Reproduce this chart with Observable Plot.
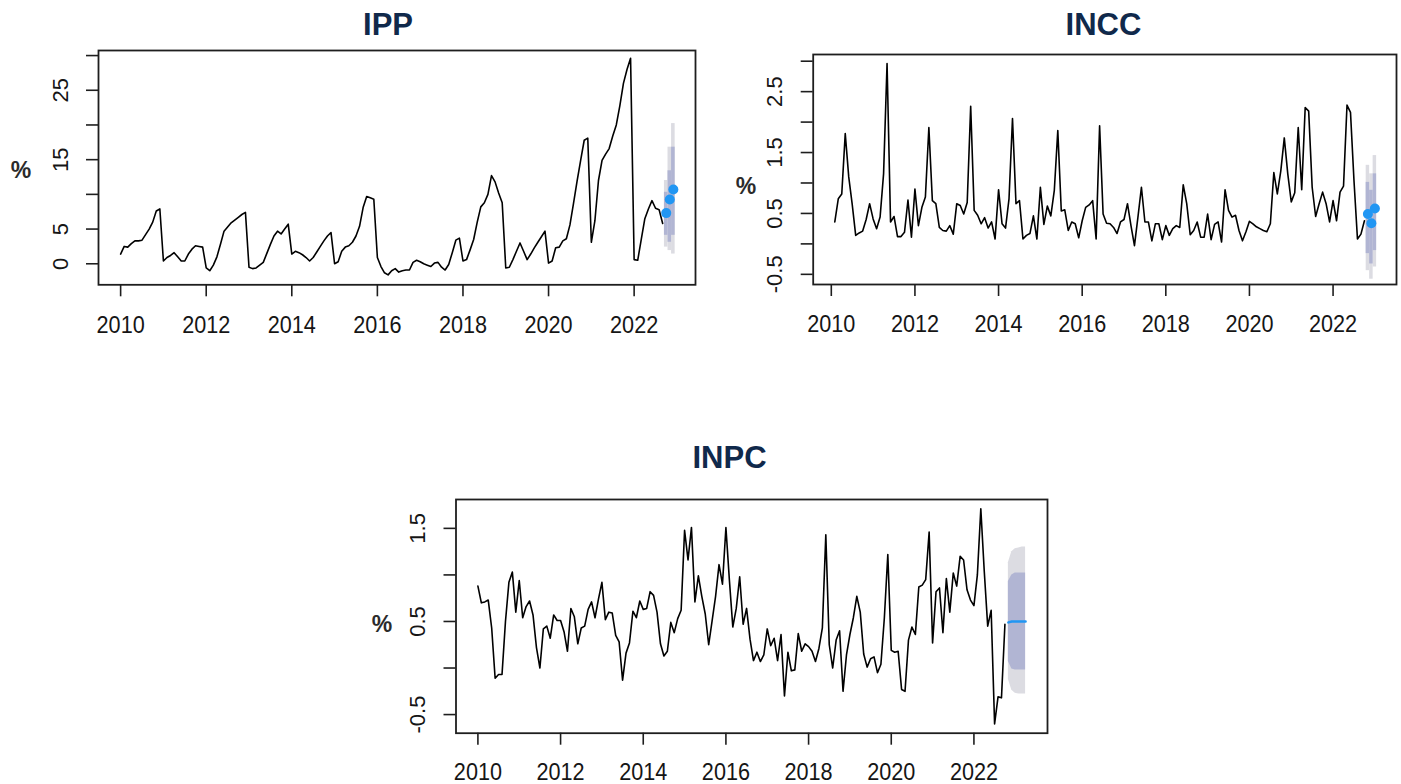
<!DOCTYPE html>
<html><head><meta charset="utf-8">
<script src="https://cdn.jsdelivr.net/npm/d3@7"></script>
<script src="https://cdn.jsdelivr.net/npm/@observablehq/plot@0.6"></script>
<style>
html,body{margin:0;padding:0;background:#fff;}
#page{position:relative;width:1401px;height:784px;overflow:hidden;font-family:"Liberation Sans",Arial,sans-serif;}
.panel{position:absolute;}
</style></head><body><div id="page"></div>
<script>
// ---------- DATA ----------
const panelTitles = ["IPP", "INCC", "INPC"];
const yAxisLabel = "%";
const xTickYears = [2010, 2012, 2014, 2016, 2018, 2020, 2022];

// IPP: Jan 2010 - Sep 2022 (monthly, %)
const ippStart = "2010-01";
const ippValues = [
  1.4, 2.5, 2.4, 2.9, 3.3, 3.3, 3.4, 4.2, 5.0, 6.0, 7.6, 7.9,
  0.4, 0.9, 1.2, 1.6, 1.0, 0.4, 0.4, 1.4, 2.1, 2.6, 2.5, 2.4,
  -0.6, -1.0, -0.2, 1.0, 2.8, 4.7, 5.3, 5.9, 6.3, 6.7, 7.1, 7.4,
  -0.5, -0.7, -0.6, -0.2, 0.2, 1.5, 2.8, 4.0, 4.7, 4.3, 5.0, 5.7,
  1.4, 1.8, 1.6, 1.3, 0.9, 0.4, 0.9, 1.7, 2.5, 3.3, 4.0, 4.5,
  0.0, 0.3, 1.8, 2.4, 2.6, 3.1, 4.0, 5.4, 8.1, 9.7, 9.5, 9.3,
  0.9, -0.4, -1.3, -1.6, -1.0, -0.7, -1.2, -1.0, -0.9, -0.9, 0.2, 0.5,
  0.3, 0.0, -0.2, -0.4, 0.1, 0.2, -0.5, -0.9, -0.1, 1.6, 3.4, 3.7,
  0.4, 0.6, 2.0, 3.5, 6.0, 8.2, 8.8, 10.0, 12.7, 11.8, 10.2, 8.8,
  -0.6, -0.5, 0.6, 1.8, 3.0, 1.8, 0.6, 1.4, 2.3, 3.1, 3.9, 4.7,
  0.1, 0.4, 2.3, 2.4, 3.3, 3.6, 5.6, 8.7, 11.9, 14.9, 17.8, 18.1,
  3.1, 6.2, 12.0, 14.9, 15.8, 16.6, 18.4, 20.0, 22.8, 26.0, 28.0, 29.6,
  0.6, 0.5, 3.5, 6.5, 7.9, 9.1, 8.0, 7.8, 5.8
];
const ippFcMonths = ["2022-10", "2022-11", "2022-12"];
const ippFcMean = [7.3, 9.25, 10.7];
const ippFcLo80 = [4.1, 3.1, 4.1];
const ippFcHi80 = [10.3, 13.4, 16.8];
const ippFcLo95 = [2.4, 1.9, 1.4];
const ippFcHi95 = [12.0, 16.8, 20.2];
const ippYTicks = [0, 5, 10, 15, 20, 25, 30];
const ippYLabels = [0, 5, 15, 25];

// INCC: Feb 2010 - Oct 2022 (monthly, %)
const inccStart = "2010-02";
const inccValues = [
  0.36, 0.74, 0.82, 1.81, 1.10, 0.65, 0.14, 0.18, 0.21, 0.40, 0.66,
  0.41, 0.25, 0.44, 1.15, 2.96, 0.36, 0.45, 0.12, 0.12, 0.19, 0.72, 0.11,
  0.90, 0.30, 0.60, 0.77, 1.91, 0.71, 0.66, 0.27, 0.22, 0.21, 0.30, 0.16,
  0.66, 0.63, 0.49, 0.68, 2.26, 0.55, 0.47, 0.33, 0.43, 0.26, 0.36, 0.08,
  0.89, 0.33, 0.26, 0.74, 2.06, 0.66, 0.71, 0.08, 0.14, 0.17, 0.46, 0.08,
  0.93, 0.32, 0.62, 0.46, 0.88, 1.86, 0.54, 0.56, 0.22, 0.36, 0.33, 0.10,
  0.38, 0.60, 0.64, 0.71, 0.08, 1.94, 0.49, 0.34, 0.33, 0.27, 0.17, 0.36,
  0.40, 0.66, 0.30, -0.03, 0.44, 0.93, 0.36, 0.36, 0.05, 0.33, 0.33, 0.07,
  0.30, 0.14, 0.25, 0.30, 0.27, 0.97, 0.66, 0.15, 0.22, 0.36, 0.11, 0.11,
  0.49, 0.07, 0.32, 0.36, 0.03, 0.89, 0.55, 0.44, 0.47, 0.22, 0.05, 0.20,
  0.37, 0.33, 0.28, 0.25, 0.22, 0.20, 0.33, 1.17, 0.82, 1.20, 1.74, 1.15,
  0.69, 0.84, 1.91, 0.89, 2.24, 2.18, 0.93, 0.45, 0.66, 0.85, 0.66, 0.36,
  0.71, 0.38, 0.85, 0.95, 2.28, 2.16, 1.04, 0.08, 0.16, 0.38
];
const inccFcMonths = ["2022-11", "2022-12", "2023-01"];
const inccFcMean = [0.49, 0.34, 0.58];
const inccFcLo80 = [-0.16, -0.33, -0.11];
const inccFcHi80 = [1.01, 0.88, 1.15];
const inccFcLo95 = [-0.44, -0.58, -0.38];
const inccFcHi95 = [1.29, 1.15, 1.45];
const inccYTicks = [-0.5, 0, 0.5, 1, 1.5, 2, 2.5, 3];
const inccYLabels = [-0.5, 0.5, 1.5, 2.5];

// INPC: Jan 2010 - Oct 2022 (monthly, %)
const inpcStart = "2010-01";
const inpcValues = [
  0.88, 0.70, 0.71, 0.73, 0.43, -0.11, -0.07, -0.07, 0.50, 0.92, 1.03, 0.60,
  0.94, 0.54, 0.66, 0.72, 0.57, 0.22, 0.00, 0.42, 0.45, 0.32, 0.57, 0.51,
  0.51, 0.39, 0.18, 0.64, 0.55, 0.26, 0.43, 0.45, 0.63, 0.71, 0.54, 0.74,
  0.92, 0.52, 0.60, 0.59, 0.35, 0.28, -0.13, 0.16, 0.27, 0.61, 0.54, 0.72,
  0.63, 0.64, 0.82, 0.78, 0.60, 0.26, 0.13, 0.18, 0.49, 0.38, 0.53, 0.62,
  1.48, 1.16, 1.51, 0.71, 0.99, 0.77, 0.58, 0.25, 0.51, 0.77, 1.11, 0.90,
  1.51, 0.95, 0.44, 0.64, 0.98, 0.47, 0.64, 0.31, 0.08, 0.17, 0.07, 0.14,
  0.42, 0.24, 0.32, 0.08, 0.36, -0.30, 0.17, -0.03, -0.02, 0.37, 0.18, 0.26,
  0.23, 0.18, 0.07, 0.21, 0.43, 1.43, 0.25, 0.00, 0.30, 0.40, -0.25, 0.14,
  0.36, 0.54, 0.77, 0.60, 0.15, 0.01, 0.10, 0.12, -0.05, 0.04, 0.54, 1.22,
  0.19, 0.17, 0.18, -0.23, -0.25, 0.30, 0.44, 0.36, 0.87, 0.89, 0.95, 1.46,
  0.27, 0.82, 0.86, 0.38, 0.96, 0.60, 1.02, 0.88, 1.20, 1.16, 0.84, 0.73,
  0.67, 1.00, 1.71, 1.04, 0.45, 0.62, -0.60, -0.31, -0.32, 0.47
];
const inpcFcMonths = ["2022-11", "2022-12", "2023-01", "2023-02", "2023-03", "2023-04"];
const inpcFcMean = [0.49, 0.50, 0.50, 0.50, 0.50, 0.50];
const inpcFcLo80 = [0.07, -0.01, -0.02, -0.02, -0.02, -0.02];
const inpcFcHi80 = [0.93, 1.00, 1.02, 1.02, 1.02, 1.02];
const inpcFcLo95 = [-0.12, -0.24, -0.27, -0.28, -0.28, -0.28];
const inpcFcHi95 = [1.13, 1.25, 1.28, 1.29, 1.30, 1.30];
const inpcYTicks = [-0.5, 0, 0.5, 1, 1.5];
const inpcYLabels = [-0.5, 0.5, 1.5];

// ---------- HELPERS ----------
function toT(s) { const [y, m] = s.split("-").map(Number); return y + (m - 1) / 12; }
function series(start, values) { const t0 = toT(start); return values.map((v, i) => ({t: t0 + i / 12, v})); }
function fcTable(months, mean, lo80, hi80, lo95, hi95) {
  return months.map((m, i) => ({t: toT(m), mean: mean[i], lo80: lo80[i], hi80: hi80[i], lo95: lo95[i], hi95: hi95[i]}));
}

const COL95 = "#dcdce2", COL80 = "#b1b5d3", FCOL = "#2196f3", AXC = "#1e1e1e", TXC = "#151515";
const FONT = "'Liberation Sans', Arial, sans-serif";

function panel(o) {
  const marks = [];
  if (o.bars) {
    const hw = 1 / 24;
    marks.push(Plot.rect(o.fc, {x1: d => d.t - hw, x2: d => d.t + hw, y1: "lo95", y2: "hi95", fill: COL95}));
    marks.push(Plot.rect(o.fc, {x1: d => d.t - hw, x2: d => d.t + hw, y1: "lo80", y2: "hi80", fill: COL80}));
  } else {
    marks.push(Plot.areaY(o.fc, {x: "t", y1: "lo95", y2: "hi95", fill: COL95}));
    marks.push(Plot.areaY(o.fc, {x: "t", y1: "lo80", y2: "hi80", fill: COL80}));
  }
  marks.push(Plot.line(o.data, {x: "t", y: "v", stroke: "#000", strokeWidth: 1.6}));
  if (o.bars) marks.push(Plot.dot(o.fc, {x: "t", y: "mean", r: 5, fill: FCOL}));
  else marks.push(Plot.line(o.fc, {x: "t", y: "mean", stroke: FCOL, strokeWidth: 2.5}));
  marks.push(Plot.frame({stroke: AXC, strokeWidth: 1.8}));
  marks.push(Plot.axisX({ticks: xTickYears, tickSize: 12, tickFormat: () => "", stroke: AXC, strokeWidth: 1.6, label: null}));
  marks.push(Plot.axisY({ticks: o.yTicks, tickSize: 12, tickFormat: () => "", stroke: AXC, strokeWidth: 1.6, label: null}));
  marks.push(Plot.text(xTickYears, {x: d => d, frameAnchor: "bottom", dy: o.xLabDy, text: d => String(d), fontSize: 24, textAnchor: "middle", lineAnchor: "middle", fill: TXC}));
  marks.push(Plot.text(o.yLabels, {y: d => d, frameAnchor: "left", dx: -38, rotate: -90, text: d => String(d), fontSize: 22, textAnchor: "middle", lineAnchor: "middle", fill: TXC}));
  const svg = Plot.plot({
    width: o.w, height: o.h,
    marginLeft: o.ml, marginRight: o.mr, marginTop: o.mt, marginBottom: o.mb,
    x: {domain: o.xd, axis: null},
    y: {domain: o.yd, axis: null},
    style: {fontFamily: FONT, background: "transparent", overflow: "visible", color: AXC},
    marks
  });
  const div = document.createElement("div");
  div.className = "panel";
  div.style.left = o.left + "px";
  div.style.top = o.top + "px";
  div.appendChild(svg);
  document.getElementById("page").appendChild(div);
  // slightly condensed, taller-looking year labels (as in the R/PNG source)
  d3.select(svg).selectAll('g[aria-label="text"] text').each(function () {
    if (this.getAttribute("transform") && this.getAttribute("transform").includes("rotate")) return;
    const L = this.getComputedTextLength();
    if (L > 0) { this.setAttribute("textLength", (L * 0.9).toFixed(1)); this.setAttribute("lengthAdjust", "spacingAndGlyphs"); }
  });
}

panel({
  left: 0, top: 0, w: 720, h: 350, ml: 98, mr: 25, mt: 50, mb: 65.7, xLabDy: 41,
  xd: [2009.483, 2023.434], yd: [-3.03, 30.73],
  data: series(ippStart, ippValues),
  fc: fcTable(ippFcMonths, ippFcMean, ippFcLo80, ippFcHi80, ippFcLo95, ippFcHi95),
  bars: true, yTicks: ippYTicks, yLabels: ippYLabels
});
panel({
  left: 700, top: 0, w: 701, h: 350, ml: 112.7, mr: 5, mt: 54, mb: 66, xLabDy: 40,
  xd: [2009.567, 2023.517], yd: [-0.667, 3.11],
  data: series(inccStart, inccValues),
  fc: fcTable(inccFcMonths, inccFcMean, inccFcLo80, inccFcHi80, inccFcLo95, inccFcHi95),
  bars: true, yTicks: inccYTicks, yLabels: inccYLabels
});
panel({
  left: 360, top: 430, w: 700, h: 354, ml: 95.5, mr: 13, mt: 69, mb: 51.3, xLabDy: 39,
  xd: [2009.47, 2023.78], yd: [-0.70, 1.81],
  data: series(inpcStart, inpcValues),
  fc: fcTable(inpcFcMonths, inpcFcMean, inpcFcLo80, inpcFcHi80, inpcFcLo95, inpcFcHi95),
  bars: false, yTicks: inpcYTicks, yLabels: inpcYLabels
});

// titles and % labels
const ov = d3.select("#page").append("svg")
  .attr("width", 1401).attr("height", 784)
  .style("position", "absolute").style("left", "0px").style("top", "0px")
  .style("pointer-events", "none");
const titlePos = [[388, 35], [1103.5, 35], [729.5, 468]];
panelTitles.forEach((t, i) => {
  ov.append("text").attr("x", titlePos[i][0]).attr("y", titlePos[i][1])
    .attr("text-anchor", "middle").attr("font-family", FONT)
    .attr("font-weight", "bold").attr("font-size", 31).attr("fill", "#10294b").text(t);
});
const pctPos = [[21, 178], [746, 194], [382, 632]];
pctPos.forEach(p => {
  ov.append("text").attr("x", p[0]).attr("y", p[1])
    .attr("text-anchor", "middle").attr("font-family", FONT)
    .attr("font-weight", "bold").attr("font-size", 23).attr("fill", "#2b2b2b").text(yAxisLabel);
});
</script>
</body></html>
